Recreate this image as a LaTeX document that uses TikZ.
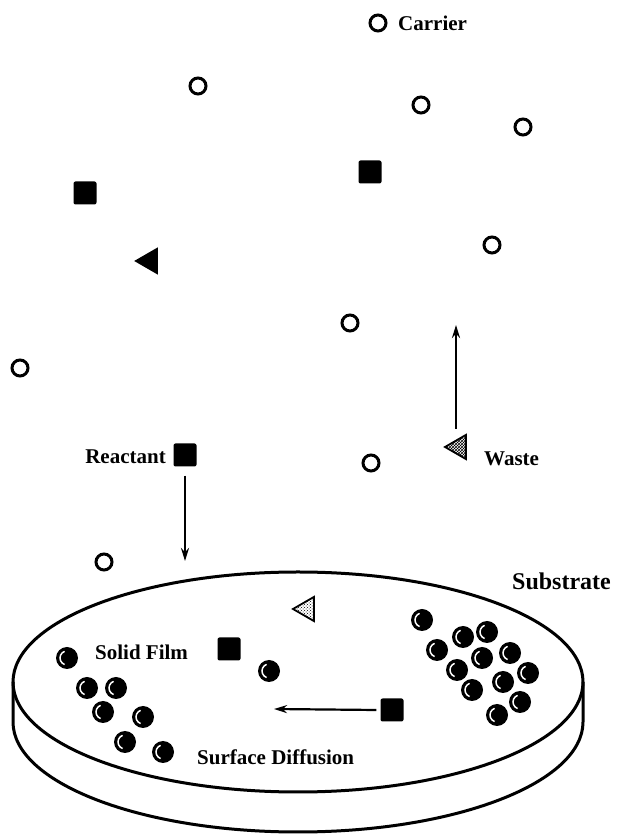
\documentclass[tikz,border=0pt]{standalone}
\usepackage{fontspec}
\setmainfont{Liberation Serif}
\usepackage{tikz}
\usetikzlibrary{arrows.meta,shapes.geometric,patterns}
\pgfdeclarelayer{background}
\pgfdeclarelayer{foreground}
\pgfsetlayers{background,main,foreground}

\tikzset{
  carrier/.style={circle,draw,line width=3pt,minimum size=16pt,inner sep=0pt},
  reactant/.style={rectangle,rounded corners=2pt,fill=black,minimum size=23pt,inner sep=0pt},
  waste/.style={regular polygon,regular polygon sides=3,shape border rotate=90,
    draw,line width=1.8pt,minimum size=28pt,inner sep=0pt},
  atom/.style={circle,fill=black,minimum size=22pt,inner sep=0pt,
    path picture={\draw[white,line width=1.5pt]
      ([shift={(-2.4pt,6.6pt)}]path picture bounding box.center)
      arc[start angle=110,end angle=250,radius=7pt];}},
  label/.style={font=\fontsize{21}{25}\selectfont\bfseries,inner sep=0pt},
  flow/.style={line width=2.2pt,-{Stealth[length=13pt,width=8pt]}}
}

\begin{document}
\begin{tikzpicture}[x=1pt,y=1pt]
\useasboundingbox (0,0) rectangle (617,834);

% substrate disc
\begin{pgfonlayer}{background}
\draw[line width=3pt] (298,152) ellipse[x radius=285,y radius=110];
\draw[line width=3pt] (13,152) -- (13,112) arc[start angle=180,end angle=360,x radius=285,y radius=110] -- (583,152);
\end{pgfonlayer}

% carrier gas
\node[carrier] (c0) at (378,811) {};
\node[carrier] (c1) at (198,748) {};
\node[carrier] (c2) at (421,729) {};
\node[carrier] (c3) at (523,707) {};
\node[carrier] (c4) at (492,589) {};
\node[carrier] (c5) at (350,511) {};
\node[carrier] (c6) at (20,466) {};
\node[carrier] (c7) at (371,371) {};
\node[carrier] (c8) at (104,272) {};

% reactant
\node[reactant] (r0) at (85,641) {};
\node[reactant] (r1) at (370,662) {};
\node[reactant] (r2) at (185,379) {};
\node[reactant] (r3) at (229,185) {};
\node[reactant] (r4) at (392,124) {};

% waste
\node[waste,fill=black] (w0) at (150,573) {};
\node[waste,pattern=crosshatch] (w1) at (459,387) {};
\node[waste,pattern=crosshatch dots] (w2) at (307,225) {};

% film atoms
\foreach \px/\py [count=\i] in {67/176,87/146,116/146,103/122,143/117,125/92,163/82,269/163,
  422/214,463/197,487/202,437/184,482/176,510/181,457/164,503/152,528/161,472/144,520/132,497/119}
  \node[atom] (a\i) at (\px,\py) {};

% labels
\node[label,anchor=west] (carrierlbl) at (398,811) {Carrier};
\node[label,anchor=east] (reactantlbl) at (166,377) {Reactant};
\node[label,anchor=west] (wastelbl) at (484,375) {Waste};
\node[label,anchor=west,font=\fontsize{24}{28}\selectfont\bfseries] (substratelbl) at (512,253) {Substrate};
\node[label,anchor=west] (filmlbl) at (95,182) {Solid Film};
\node[label,anchor=west] (difflbl) at (197,77) {Surface Diffusion};

% transport arrows
\coordinate (up) at (456,509);
\coordinate (down) at (185,273);
\coordinate (left) at (274,125);
\draw[flow] ([yshift=9pt]w1.north -| up) -- (up);
\draw[flow] ([yshift=-9pt]r2.south) -- (down);
\draw[flow] ([xshift=-4pt]r4.west) -- (left);
\end{tikzpicture}
\end{document}
